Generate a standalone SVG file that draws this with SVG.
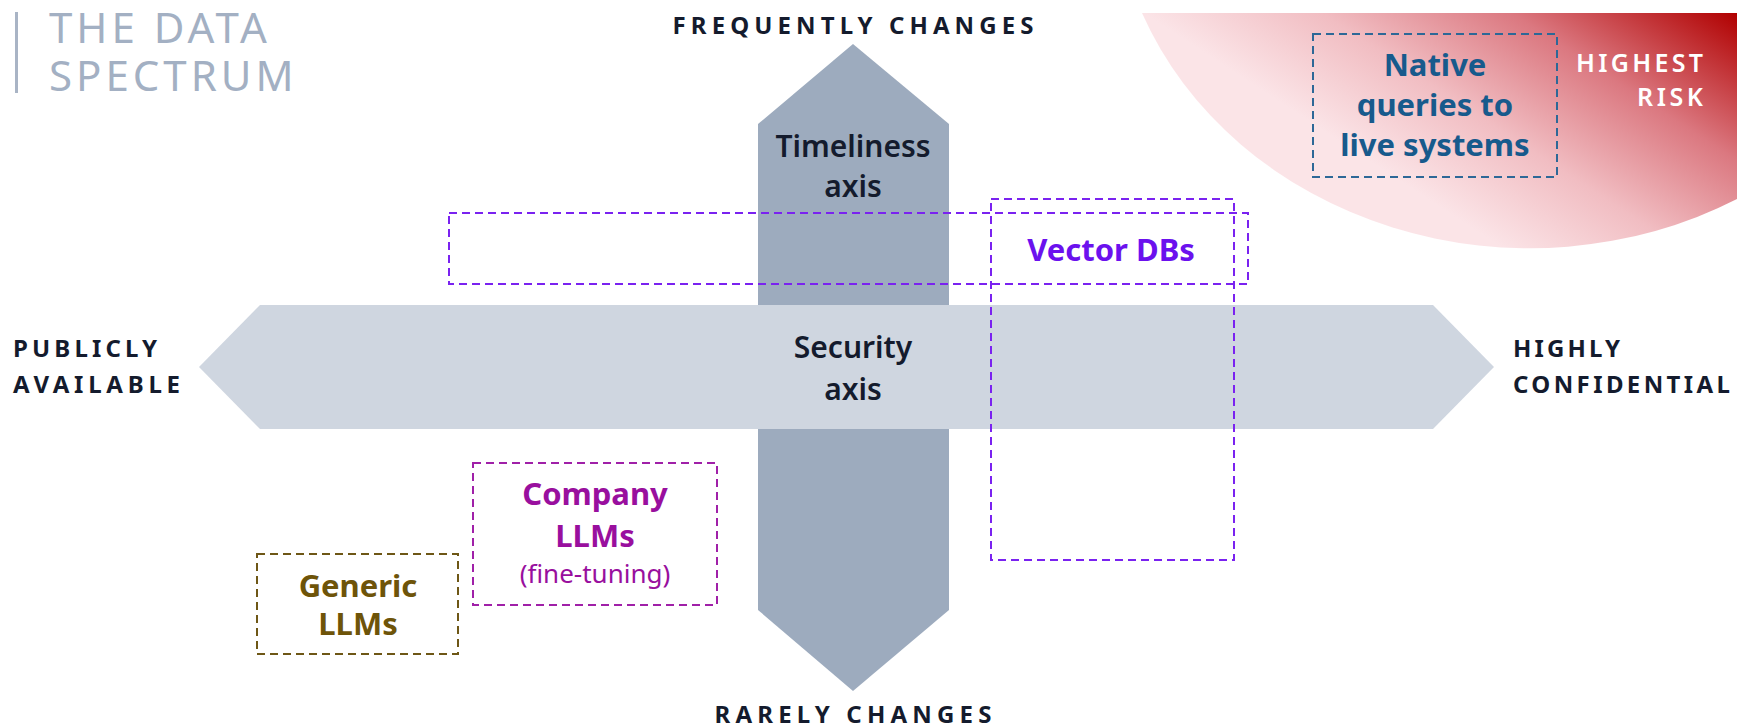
<svg xmlns="http://www.w3.org/2000/svg" width="1754" height="728" viewBox="0 0 1754 728">
  <defs>
    <linearGradient id="riskGrad" gradientUnits="userSpaceOnUse" x1="1559" y1="285" x2="1737" y2="13">
      <stop offset="0" stop-color="#FBE4E7"/>
      <stop offset="0.3" stop-color="#F1BDC2"/>
      <stop offset="0.62" stop-color="#DB7880"/>
      <stop offset="1" stop-color="#B00000"/>
    </linearGradient>
  </defs>
  <style>
    text { font-family: "Noto Sans", "Open Sans", "Liberation Sans", sans-serif; }
    .cap { font-size: 24px; font-weight: 700; fill: #141B2D; }
    .axislbl { font-size: 30px; font-weight: 600; fill: #141B2D; text-anchor: middle; }
    .box { fill: none; stroke-width: 2; stroke-dasharray: 8 5; }
    .lbl { font-size: 31px; font-weight: 700; text-anchor: middle; }
  </style>
  <rect width="1754" height="728" fill="#FFFFFF"/>

  <g id="title">
    <rect x="15" y="12" width="3" height="81" fill="#A9B4C5"/>
    <text font-size="42" font-weight="400" fill="#A3B0C3" letter-spacing="4"><tspan x="49" y="43">THE DATA</tspan><tspan x="49" y="91">SPECTRUM</tspan></text>
  </g>

  <g id="highest-risk">
    <path d="M1142,13 H1737 V199 A417,372 0 0 1 1142,13 Z" fill="url(#riskGrad)"/>
    <text x="1703" y="72" font-size="25" font-weight="600" fill="#FFFFFF" text-anchor="end" textLength="127" lengthAdjust="spacing">HIGHEST</text>
    <text x="1703" y="106" font-size="25" font-weight="600" fill="#FFFFFF" text-anchor="end" textLength="66" lengthAdjust="spacing">RISK</text>
  </g>

  <g id="connectors">
    <g id="timeliness-axis">
      <polygon points="853,44 949,124 949,610 853,691 758,610 758,124" fill="#9DABBE"/>
      <text class="axislbl" x="853" y="157">Timeliness</text>
      <text class="axislbl" x="853" y="197">axis</text>
    </g>
    <g id="security-axis">
      <polygon points="199,367 260,305 1433,305 1494,367 1433,429 260,429" fill="#CFD6E0"/>
      <text class="axislbl" x="853" y="358">Security</text>
      <text class="axislbl" x="853" y="400">axis</text>
    </g>
  </g>

  <g id="axis-labels">
    <text class="cap" x="853" y="34" text-anchor="middle" textLength="361" lengthAdjust="spacing">FREQUENTLY CHANGES</text>
    <text class="cap" x="853" y="723" text-anchor="middle" textLength="277" lengthAdjust="spacing">RARELY CHANGES</text>
    <text class="cap" x="13" y="357" textLength="144" lengthAdjust="spacing">PUBLICLY</text>
    <text class="cap" x="13" y="393" textLength="167" lengthAdjust="spacing">AVAILABLE</text>
    <text class="cap" x="1513" y="357" textLength="107" lengthAdjust="spacing">HIGHLY</text>
    <text class="cap" x="1513" y="393" textLength="217" lengthAdjust="spacing">CONFIDENTIAL</text>
  </g>

  <g id="vector-dbs">
    <rect class="box" x="449" y="213" width="799" height="71" stroke="#7A22F0"/>
    <rect class="box" x="991" y="199" width="243" height="361" stroke="#7A22F0"/>
    <text class="lbl" x="1111" y="261" fill="#6B11EE">Vector DBs</text>
  </g>

  <g id="native-queries">
    <rect class="box" x="1313" y="34" width="244" height="143" stroke="#2D6897"/>
    <text class="lbl" x="1435" y="76" fill="#175A8C">Native</text>
    <text class="lbl" x="1435" y="116" fill="#175A8C">queries to</text>
    <text class="lbl" x="1435" y="156" fill="#175A8C">live systems</text>
  </g>

  <g id="company-llms">
    <rect class="box" x="473" y="463" width="244" height="142" stroke="#A020A8"/>
    <text class="lbl" x="595" y="505" fill="#990F9E">Company</text>
    <text class="lbl" x="595" y="547" fill="#990F9E">LLMs</text>
    <text x="595" y="583" font-size="26" font-weight="400" fill="#990F9E" text-anchor="middle">(fine-tuning)</text>
  </g>

  <g id="generic-llms">
    <rect class="box" x="257" y="554" width="201" height="100" stroke="#6E5716"/>
    <text class="lbl" x="358" y="597" fill="#6E5409">Generic</text>
    <text class="lbl" x="358" y="635" fill="#6E5409">LLMs</text>
  </g>
</svg>
